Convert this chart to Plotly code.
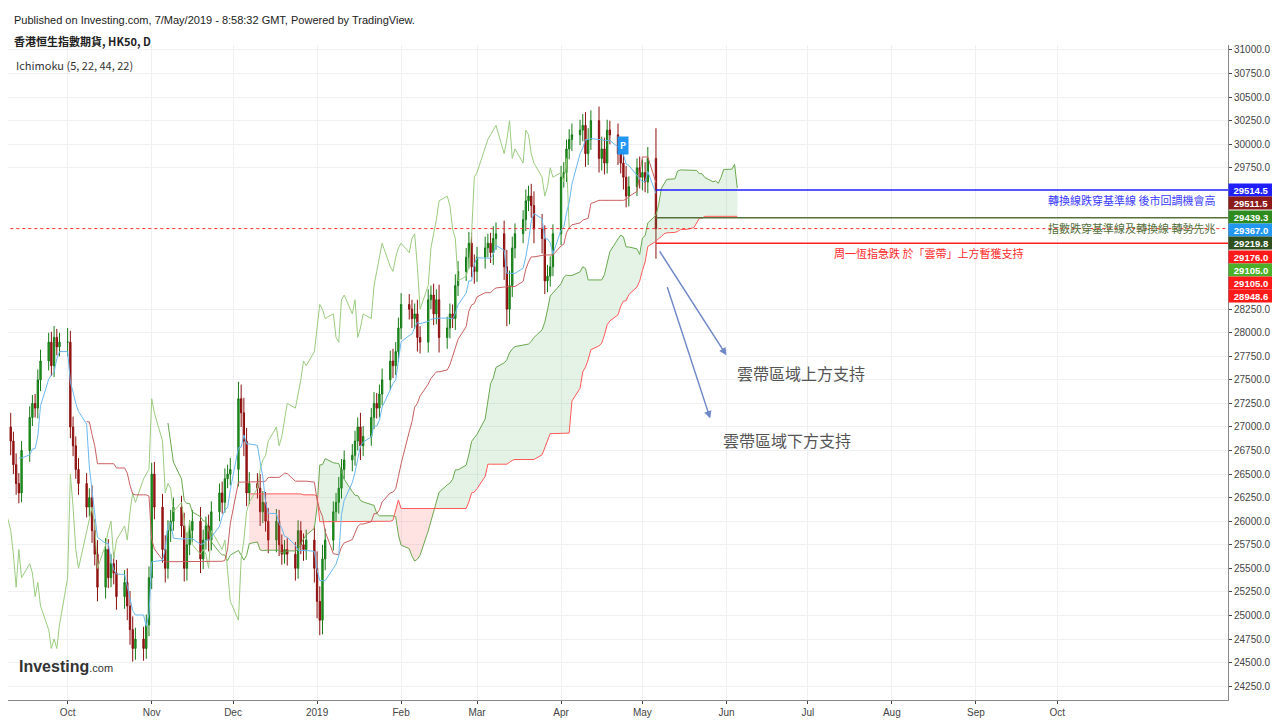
import pandas as pd
import numpy as np
import plotly.graph_objects as go

closes = [
 # Sep 2018 (16)
 27000, 26850, 26600, 26400, 26300, 26750, 27100, 27250, 27200, 27500, 27700, 27900, 27650, 27950, 27850, 27900,
 # Oct (23)
 27900, 27000, 26800, 26550, 26400, 26150, 26250, 25900, 25650, 25300, 25700, 25400, 25550, 25450, 25200, 25350, 25100, 24850, 24650, 24750, 24650, 24900, 25400,
 # Nov (22)
 26500, 26150, 25700, 25500, 25900, 26000, 26150, 25950, 25500, 25750, 25900, 26000, 25600, 25800, 25950, 25800, 26100, 26300, 26200, 26450, 26500, 26550,
 # Dec (21)
 27300, 27150, 26850, 26300, 26400, 26350, 26100, 26200, 26000, 25800, 26000, 25750, 25650, 25700, 25650, 25500, 25900, 25750, 25700, 25800, 25500,
 # Jan 2019 (23)
 25150, 24950, 25600, 25800, 26100, 26200, 26350, 26550, 26650, 26700, 26850, 27000, 26800, 26900, 27100, 27250, 27200, 27350, 27500, 27700, 27650, 27800, 28050,
 # Feb (20)
 28300, 28250, 28150, 28200, 27950, 27900, 28350, 28400, 28200, 28350, 27950, 28050, 28200, 28150, 28500, 28650, 28800, 28950, 28700, 28650,
 # Mar (21)
 28800, 28900, 28950, 28850, 29000, 29050, 28700, 28250, 28500, 28900, 29050, 29200, 29400, 29450, 29350, 29100, 29000, 28550, 28600, 28700, 29050,
 # Apr (22)
 29650, 29700, 29950, 30050, 30100, 30150, 30200, 29900, 30050, 30250, 29850, 29950, 29800, 30150, 30100, 29900, 29800, 29650, 29450, 29550, 29750, 29650,
 # May (4)
 29700, 29600, 29850, 29105,
]
wick = [
 120,150,100,120,110,100,120,90,100,110,120,100,110,120,90,100,
 150,120,110,100,120,110,100,130,120,150,120,110,100,120,140,130,150,160,140,120,130,110,120,
 120,130,140,150,110,120,100,120,140,130,110,120,150,110,100,120,110,100,120,110,100,120,
 180,150,160,140,120,110,150,120,110,140,130,120,110,100,120,130,110,100,120,110,150,
 180,160,150,120,110,100,120,110,100,120,110,100,150,110,100,120,110,100,120,110,130,100,110,
 120,110,100,110,150,120,110,100,120,110,160,120,110,100,120,110,100,120,110,130,
 110,120,100,110,130,120,140,180,160,120,110,100,120,110,130,150,160,140,120,110,100,
 120,110,100,110,120,110,120,140,120,110,150,130,120,110,100,120,110,130,120,110,100,120,
 140,110,120,320,
]
dates = pd.bdate_range("2018-09-07", "2019-05-06")
opens = [closes[0] - 100] + closes[:-1]
highs = [max(o, c) + w for o, c, w in zip(opens, closes, wick)]
lows = [min(o, c) - w for o, c, w in zip(opens, closes, wick)]

levels = [29514.5, 29511.5, 29439.3, 29367.0, 29219.8, 29176.0, 29105.0, 29105.0, 28948.6]
level_colors = ["#1f1fff", "#8b1a1a", "#2e8b1f", "#2196f3", "#2f4f1f", "#ff1a1a", "#4caf2a", "#ff1a1a", "#ff1a1a"]
notes = ["轉換線跌穿基準線 後市回調機會高", "指數跌穿基準線及轉換線 轉勢先兆", "周一恆指急跌 於「雲帶」上方暫獲支持"]
arrow_notes = ["雲帶區域上方支持", "雲帶區域下方支持"]
y_ticks = [24250, 24500, 24750, 25000, 25250, 25500, 25750, 26000, 26250, 26500, 26750, 27000, 27250, 27500,
           27750, 28000, 28250, 29750, 30000, 30250, 30500, 30750, 31000]

df = pd.DataFrame({"o": opens, "h": highs, "l": lows, "c": closes}, index=dates)
fut = pd.bdate_range(dates[-1], periods=23)[1:]
alld = dates.append(fut)
tenkan = (df.h.rolling(5).max() + df.l.rolling(5).min()) / 2
kijun = (df.h.rolling(22).max() + df.l.rolling(22).min()) / 2
spanA = ((tenkan + kijun) / 2).values
spanB = ((df.h.rolling(44).max() + df.l.rolling(44).min()) / 2).values
cloud_x = alld[22:22 + len(dates)]
chikou_x = dates[:-22]
chikou_y = df.c.values[22:]

fig = go.Figure()
valid = ~np.isnan(spanA) & ~np.isnan(spanB)
idx = np.where(valid)[0]

def flush(seg):
    if len(seg) < 1:
        return
    xs = [cloud_x[i] for i in seg]
    a = [spanA[i] for i in seg]; b = [spanB[i] for i in seg]
    up = np.mean(np.array(a) - np.array(b)) >= 0
    col = "rgba(76,175,80,0.15)" if up else "rgba(255,82,82,0.17)"
    fig.add_trace(go.Scatter(x=xs + xs[::-1], y=a + b[::-1], fill="toself", fillcolor=col,
                             line=dict(width=0), mode="lines", hoverinfo="skip", showlegend=False))

seg = []
prev = None
for i in idx:
    s = spanA[i] >= spanB[i]
    if prev is not None and s != prev:
        seg.append(i)
        flush(seg); seg = [i]
    else:
        seg.append(i)
    prev = s
flush(seg)

fig.add_trace(go.Scatter(x=cloud_x, y=spanA, mode="lines", line=dict(color="#6aa84f", width=1), showlegend=False))
fig.add_trace(go.Scatter(x=cloud_x, y=spanB, mode="lines", line=dict(color="#ff5a5a", width=1), showlegend=False))
fig.add_trace(go.Scatter(x=chikou_x, y=chikou_y, mode="lines", line=dict(color="#9ccc80", width=1), showlegend=False))
fig.add_trace(go.Scatter(x=dates, y=kijun, mode="lines", line=dict(color="#c96060", width=1), showlegend=False))
fig.add_trace(go.Scatter(x=dates, y=tenkan, mode="lines", line=dict(color="#6bb8ee", width=1), showlegend=False))
fig.add_trace(go.Candlestick(x=dates, open=opens, high=highs, low=lows, close=closes,
    increasing=dict(line=dict(color="#157a15", width=1), fillcolor="#22a022"),
    decreasing=dict(line=dict(color="#8b0f0f", width=1), fillcolor="#a51515"),
    whiskerwidth=0, showlegend=False))

x_end = pd.Timestamp("2019-12-10")
x_lvl0 = dates[-1]
fig.add_trace(go.Scatter(x=[x_lvl0, x_end], y=[levels[0]] * 2, mode="lines", line=dict(color="#1f1fff", width=1.5), showlegend=False))
fig.add_trace(go.Scatter(x=[x_lvl0, x_end], y=[levels[4]] * 2, mode="lines", line=dict(color="#55703a", width=1.5), showlegend=False))
fig.add_trace(go.Scatter(x=[x_lvl0, x_end], y=[levels[8]] * 2, mode="lines", line=dict(color="#ff2020", width=1.5), showlegend=False))
fig.add_trace(go.Scatter(x=[pd.Timestamp("2018-08-01"), x_end], y=[levels[6]] * 2, mode="lines",
                         line=dict(color="#ff3030", width=1, dash="dot"), showlegend=False))

ann = []
ann.append(dict(x=pd.Timestamp("2019-11-29"), y=levels[0], text=notes[0], xanchor="right", yanchor="top",
                showarrow=False, font=dict(color="#3a3aff", size=11)))
ann.append(dict(x=pd.Timestamp("2019-11-29"), y=levels[4], text=notes[1], xanchor="right", yanchor="top",
                showarrow=False, font=dict(color="#55703a", size=11)))
ann.append(dict(x=pd.Timestamp("2019-07-10"), y=levels[8], text=notes[2], xanchor="left", yanchor="top",
                showarrow=False, font=dict(color="#ff2a2a", size=11)))
for i, (v, c) in enumerate(zip(levels, level_colors)):
    ann.append(dict(xref="paper", x=1.0, y=levels[0], yshift=-13.3 * i, text=f"<b>{v:.1f}</b>", xanchor="left",
                    showarrow=False, bgcolor=c, font=dict(color="white", size=9.5, family="Arial"), borderpad=0,
                    height=12, width=44))
ann.append(dict(x=pd.Timestamp("2019-06-01"), y=27760, ax=pd.Timestamp("2019-05-07"), ay=28880, axref="x", ayref="y",
                showarrow=True, arrowhead=2, arrowwidth=1.5, arrowcolor="#7088c8", text=""))
ann.append(dict(x=pd.Timestamp("2019-05-26"), y=27090, ax=pd.Timestamp("2019-05-10"), ay=28500, axref="x", ayref="y",
                showarrow=True, arrowhead=2, arrowwidth=1.5, arrowcolor="#7088c8", text=""))
ann.append(dict(x=pd.Timestamp("2019-06-04"), y=27570, text=arrow_notes[0], xanchor="left", showarrow=False,
                font=dict(color="#555", size=16)))
ann.append(dict(x=pd.Timestamp("2019-05-30"), y=26860, text=arrow_notes[1], xanchor="left", showarrow=False,
                font=dict(color="#555", size=16)))
ann.append(dict(x=pd.Timestamp("2019-04-24"), y=29990, text="<b>P</b>", showarrow=False, bgcolor="#2196f3",
                font=dict(color="white", size=9), borderpad=2))
ann.append(dict(xref="paper", yref="paper", x=0.003, y=1.05, text="Published on Investing.com, 7/May/2019 - 8:58:32 GMT, Powered by TradingView.",
                xanchor="left", showarrow=False, font=dict(size=11, color="#222", family="Arial")))
ann.append(dict(xref="paper", yref="paper", x=0.003, y=1.022, text="<b>香港恒生指數期貨, HK50, D</b>",
                xanchor="left", showarrow=False, font=dict(size=11, color="#222")))
ann.append(dict(xref="paper", yref="paper", x=0.005, y=0.985, text="Ichimoku (5, 22, 44, 22)",
                xanchor="left", showarrow=False, font=dict(size=11, color="#333")))
ann.append(dict(xref="paper", yref="paper", x=0.007, y=0.035, text="<b>Investing</b><span style='font-size:11px'>.com</span>",
                xanchor="left", showarrow=False, font=dict(size=16, color="#333", family="Arial")))

tick_dates = ["2018-10-01", "2018-11-01", "2018-12-01", "2019-01-01", "2019-02-01", "2019-03-01", "2019-04-01",
              "2019-05-01", "2019-06-01", "2019-07-01", "2019-08-01", "2019-09-01", "2019-10-01"]
tick_text = ["Oct", "Nov", "Dec", "2019", "Feb", "Mar", "Apr", "May", "Jun", "Jul", "Aug", "Sep", "Oct"]

fig.update_layout(
    width=1272, height=712, margin=dict(l=0, r=52, t=37, b=20),
    paper_bgcolor="white", plot_bgcolor="white",
    font=dict(family="Noto Sans CJK TC, Arial", size=10, color="#444"),
    annotations=ann, showlegend=False,
    xaxis=dict(range=[pd.Timestamp("2018-09-09"), pd.Timestamp("2019-12-03")], rangeslider=dict(visible=False),
               tickvals=tick_dates, ticktext=tick_text, showgrid=True, gridcolor="#eef0f2", zeroline=False,
               showline=True, linecolor="#888", ticks="outside", ticklen=3, tickfont=dict(family="Arial")),
    yaxis=dict(side="right", range=[24103, 31053], tickvals=y_ticks, tickformat=".1f", showgrid=True,
               gridcolor="#eef0f2", zeroline=False, showline=True, linecolor="#888", ticks="outside", ticklen=3,
               tickfont=dict(size=10, family="Arial")),
)
fig.write_html("out.html")
